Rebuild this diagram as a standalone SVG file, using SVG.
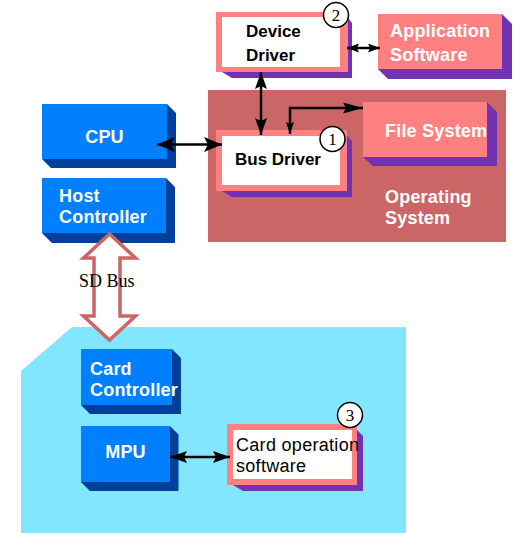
<svg xmlns="http://www.w3.org/2000/svg" width="516" height="533" viewBox="0 0 516 533">
<defs>
<style>
.blue{fill:#0080FF}
.bsh{fill:#00409A}
.pink{fill:#FF8080}
.psh{fill:#7133B3}
.inner{fill:#FFFFFF}
.wt{font-family:"Liberation Sans",Arial,sans-serif;font-weight:bold;font-size:18px;fill:#FFFFFF;letter-spacing:0.2px}
.bt{font-family:"Liberation Sans",Arial,sans-serif;font-weight:bold;font-size:17px;fill:#000000}
.rt{font-family:"Liberation Sans",Arial,sans-serif;font-size:18px;fill:#000000;letter-spacing:0.3px}
.num{font-family:"Liberation Serif","Times New Roman",serif;font-size:17px;fill:#000000;text-anchor:middle}
.badge{fill:#FFFFFF;stroke:#000000;stroke-width:1.5}
.con{fill:none;stroke:#000000;stroke-width:2.5}
</style>
<marker id="mA" markerUnits="userSpaceOnUse" viewBox="0 0 18 15" markerWidth="18" markerHeight="15" refX="18" refY="7.5" orient="auto-start-reverse"><path d="M0,0 L18,7.5 L0,15 L4,7.5 Z" fill="#000"/></marker>
<marker id="mB" markerUnits="userSpaceOnUse" viewBox="0 0 17 12" markerWidth="17" markerHeight="12" refX="17" refY="6" orient="auto-start-reverse"><path d="M0,0 L17,6 L0,12 L3,6 Z" fill="#000"/></marker>
<marker id="mC" markerUnits="userSpaceOnUse" viewBox="0 0 20 11" markerWidth="20" markerHeight="11" refX="20" refY="5.5" orient="auto-start-reverse"><path d="M0,0 L20,5.5 L0,11 L3,5.5 Z" fill="#000"/></marker>
<marker id="mD" markerUnits="userSpaceOnUse" viewBox="0 0 12 9" markerWidth="12" markerHeight="9" refX="12" refY="4.5" orient="auto-start-reverse"><path d="M0,0 L12,4.5 L0,9 L2,4.5 Z" fill="#000"/></marker>
<marker id="mE" markerUnits="userSpaceOnUse" viewBox="0 0 12 8" markerWidth="12" markerHeight="8" refX="12" refY="4" orient="auto-start-reverse"><path d="M0,0 L12,4 L0,8 L2,4 Z" fill="#000"/></marker>
</defs>

<g id="os">
<rect x="208" y="90" width="298" height="152" fill="#CC6666"/>
<text class="wt" x="385" y="203">Operating</text>
<text class="wt" x="385" y="224">System</text>
</g>

<g id="card-region">
<polygon points="72,327 406,327 406,533 21,533 21,371" fill="#83E6FF"/>
</g>

<g id="device-driver">
<polygon class="psh" points="348,18 352,23 352,78 232,78 222,72 348,72"/>
<rect class="pink" x="216" y="12" width="132" height="60"/>
<rect class="inner" x="222" y="17" width="118" height="50"/>
<text class="bt" x="246" y="37">Device</text>
<text class="bt" x="246" y="61">Driver</text>
<circle class="badge" cx="336" cy="15" r="12.5"/>
<text class="num" x="336" y="21">2</text>
</g>

<g id="app-software">
<polygon class="psh" points="502,14 512,24 512,79 388,79 378,69 502,69"/>
<rect class="pink" x="378" y="14" width="124" height="55"/>
<text class="wt" x="390" y="37">Application</text>
<text class="wt" x="390" y="61">Software</text>
</g>

<g id="bus-driver">
<polygon class="psh" points="347,136 352,141 352,197 232,197 222,191 347,191"/>
<rect class="pink" x="216" y="130" width="131" height="61"/>
<rect class="inner" x="222" y="136" width="118" height="49"/>
<text class="bt" x="235" y="165">Bus Driver</text>
<circle class="badge" cx="332.5" cy="139" r="12.5"/>
<text class="num" x="332.5" y="145">1</text>
</g>

<g id="file-system">
<polygon class="psh" points="487,102 497,112 497,166 373,166 363,157 487,157"/>
<rect class="pink" x="363" y="102" width="124" height="55"/>
<text class="wt" x="385" y="137">File System</text>
</g>

<g id="cpu">
<polygon class="bsh" points="167,104 176,113 176,168 51,168 42,159 167,159"/>
<rect class="blue" x="42" y="104" width="125" height="55"/>
<text class="wt" x="104.5" y="143" text-anchor="middle">CPU</text>
</g>

<g id="host-controller">
<polygon class="bsh" points="166,178 175,187 175,243 52,243 42,233 166,233"/>
<rect class="blue" x="42" y="178" width="124" height="55"/>
<text class="wt" x="59" y="202">Host</text>
<text class="wt" x="59" y="223">Controller</text>
</g>

<g id="card-controller">
<polygon class="bsh" points="172,349 181,358 181,414 90,414 81,405 172,405"/>
<rect class="blue" x="81" y="349" width="91" height="56"/>
<text class="wt" x="90" y="375">Card</text>
<text class="wt" x="90" y="396">Controller</text>
</g>

<g id="mpu">
<polygon class="bsh" points="170,426 178.5,434.5 178.5,491 90,491 81,482 170,482"/>
<rect class="blue" x="81" y="426" width="89" height="56"/>
<text class="wt" x="125.5" y="458" text-anchor="middle">MPU</text>
</g>

<g id="card-op-software">
<polygon class="psh" points="357,430 363,436 363,491 243,491 233,485 357,485"/>
<rect class="pink" x="227" y="424" width="130" height="61"/>
<rect class="inner" x="233" y="430" width="119" height="49"/>
<text class="rt" x="236" y="451">Card operation</text>
<text class="rt" x="236" y="472">software</text>
<circle class="badge" cx="350" cy="415" r="12.5"/>
<text class="num" x="350" y="421">3</text>
</g>

<g id="connectors">
<line class="con" x1="157" y1="144.5" x2="222" y2="144.5" marker-start="url(#mA)" marker-end="url(#mA)"/>
<line class="con" x1="261" y1="72" x2="261" y2="135" marker-start="url(#mB)" marker-end="url(#mB)"/>
<polyline class="con" points="290,134 290,108 363,108" stroke-width="2" marker-start="url(#mE)" marker-end="url(#mC)"/>
<line class="con" x1="347" y1="48" x2="380" y2="48" stroke-width="2" marker-start="url(#mD)" marker-end="url(#mD)"/>
<line class="con" x1="170" y1="457" x2="230" y2="457" marker-start="url(#mB)" marker-end="url(#mB)"/>
<g id="sd-bus">
<polygon points="109.5,234 135.5,258 120,258 120,316 135.5,316 109.5,340 83.5,316 94,316 94,258 83.5,258" fill="#FFFFFF" stroke="#CC6666" stroke-width="3.5" stroke-linejoin="miter"/>
<text x="79" y="287" font-family="'Liberation Serif','Times New Roman',serif" font-size="18" fill="#000">SD Bus</text>
</g>
</g>
</svg>
